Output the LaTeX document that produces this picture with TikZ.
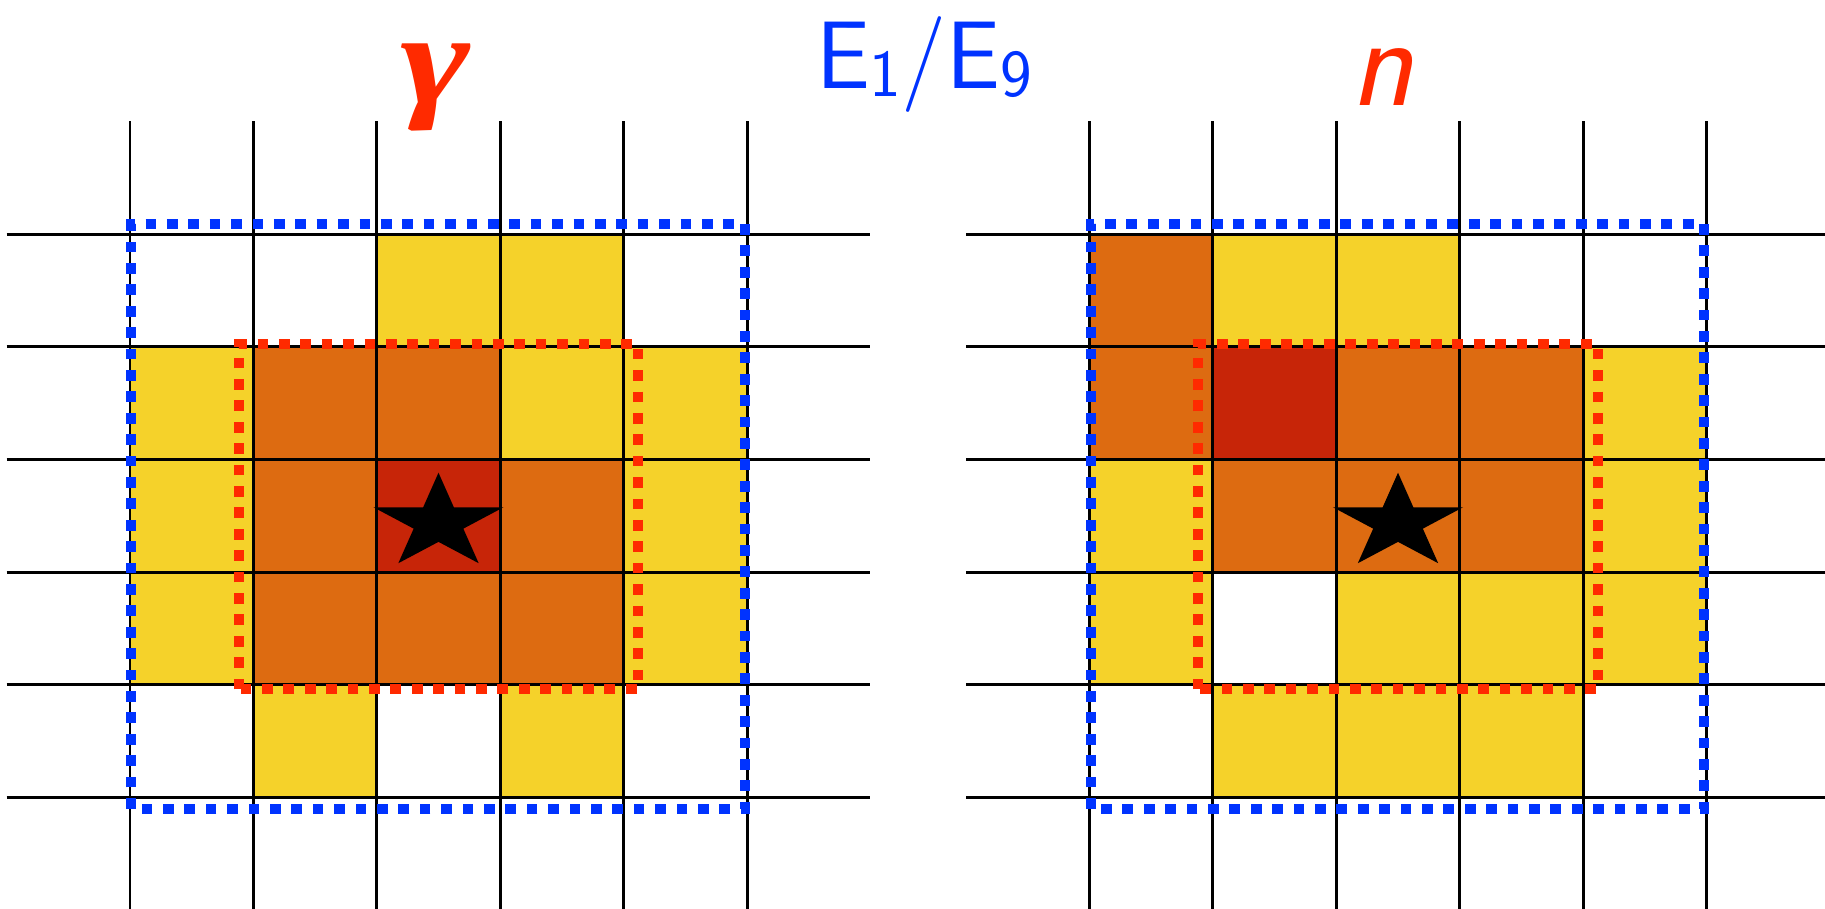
\documentclass[tikz,border=0pt]{standalone}
\usepackage{graphicx}
\usepackage{fontspec}
\newfontfamily\gammafont{Liberation Serif}
\definecolor{cellyellow}{RGB}{245,210,42}
\definecolor{cellorange}{RGB}{221,107,17}
\definecolor{cellred}{RGB}{199,37,8}
\definecolor{markred}{RGB}{255,42,0}
\definecolor{markblue}{RGB}{0,51,255}
\newcommand{\lowidx}[1]{\raisebox{-2.4pt}{\fontsize{19.1}{22}\selectfont #1}}

\tikzset{
  gridline/.style={black, line width=0.85pt},
  outerbox/.style={markblue, line width=1mm, dash pattern=on 1.07mm off 1.07mm},
  innerbox/.style={markred, line width=1mm, dash pattern=on 1.07mm off 1.07mm},
  lowcell/.style={fill=cellyellow},
  midcell/.style={fill=cellorange},
  topcell/.style={fill=cellred},
}

\begin{document}
\begin{tikzpicture}
    \useasboundingbox (0,0) rectangle (18.25,9.08);
    \clip (0,0) rectangle (18.25,9.08);

    % Labels
    \node[anchor=base, text=markred, inner sep=0pt] (gammalabel) at (4.36,8.05)
        {\gammafont\bfseries\itshape\fontsize{37}{40}\selectfont\scalebox{1.3}[1]{γ}};
    \node[anchor=base, text=markred, inner sep=0pt] (nlabel) at (13.82,8.03)
        {\sffamily\itshape\fontsize{37}{40}\selectfont n};
    \node[anchor=base, text=markblue, inner sep=0pt] (ratiolabel) at (9.24,8.197)
        {\sffamily\fontsize{27.3}{33}\selectfont E\lowidx{1}/E\lowidx{9}};

    % Left grid (gamma)
    \begin{scope}[shift={(1.30cm,1.105cm)}, x=1.234cm, y=1.127cm]
        \foreach \c/\r/\s in {2/4/lowcell, 3/4/lowcell,
                0/3/lowcell, 1/3/midcell, 2/3/midcell, 3/3/lowcell, 4/3/lowcell,
                0/2/lowcell, 1/2/midcell, 2/2/topcell, 3/2/midcell, 4/2/lowcell,
                0/1/lowcell, 1/1/midcell, 2/1/midcell, 3/1/midcell, 4/1/lowcell,
                1/0/lowcell, 3/0/lowcell}
            \path[\s] (\c,\r) rectangle ++(1,1);
        \foreach \i in {0,...,5}
            \draw[gridline] (\i,-1) -- (\i,6);
        \foreach \j in {0,...,5}
            \draw[gridline] (-1,\j) -- (6,\j);
        \begin{scope}[shift={(2.5,2.438)}, xscale=1.248]
            \fill[black] (90:0.444)
                \foreach \k [evaluate=\k as \a using 90+36*\k,
                             evaluate=\k as \rr using {mod(\k,2)==0 ? 0.444 : 0.1696}] in {1,...,9}
                { -- (\a:\rr) } -- cycle;
        \end{scope}
        \draw[innerbox] (0.88,0.96) rectangle (4.12,4.02);
        \draw[outerbox] (0.01,-0.10) rectangle (4.98,5.09);
    \end{scope}

    % Right grid (n)
    \begin{scope}[shift={(10.895cm,1.105cm)}, x=1.234cm, y=1.127cm]
        \foreach \c/\r/\s in {0/4/midcell, 1/4/lowcell, 2/4/lowcell,
                0/3/midcell, 1/3/topcell, 2/3/midcell, 3/3/midcell, 4/3/lowcell,
                0/2/lowcell, 1/2/midcell, 2/2/midcell, 3/2/midcell, 4/2/lowcell,
                0/1/lowcell, 2/1/lowcell, 3/1/lowcell, 4/1/lowcell,
                1/0/lowcell, 2/0/lowcell, 3/0/lowcell}
            \path[\s] (\c,\r) rectangle ++(1,1);
        \foreach \i in {0,...,5}
            \draw[gridline] (\i,-1) -- (\i,6);
        \foreach \j in {0,...,5}
            \draw[gridline] (-1,\j) -- (6,\j);
        \begin{scope}[shift={(2.5,2.438)}, xscale=1.248]
            \fill[black] (90:0.444)
                \foreach \k [evaluate=\k as \a using 90+36*\k,
                             evaluate=\k as \rr using {mod(\k,2)==0 ? 0.444 : 0.1696}] in {1,...,9}
                { -- (\a:\rr) } -- cycle;
        \end{scope}
        \draw[innerbox] (0.88,0.96) rectangle (4.12,4.02);
        \draw[outerbox] (0.01,-0.10) rectangle (4.98,5.09);
    \end{scope}
\end{tikzpicture}
\end{document}
